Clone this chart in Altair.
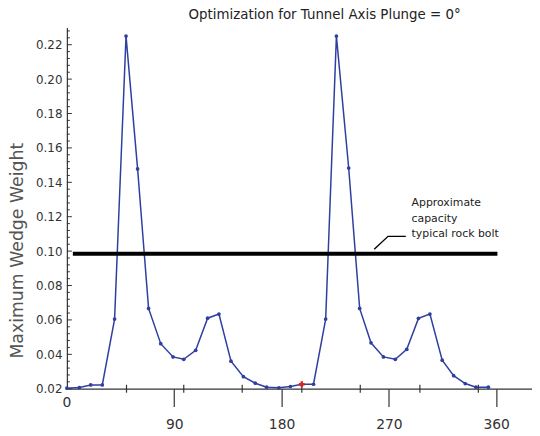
import altair as alt
import pandas as pd

# ---- data ----
angle = [0, 10.4, 20, 29.7, 40, 49.6, 59.3, 68.5, 78.7, 89, 98, 108, 118, 127.5,
         137.6, 148, 158, 167.5, 177.8, 187.4, 197, 206.8, 217, 226, 236.3, 245.5,
         255, 265.4, 275.4, 285, 294.8, 304.4, 314.7, 324.3, 334, 343, 353.4]
weight = [0.0203, 0.0207, 0.0222, 0.0222, 0.0605, 0.225, 0.1478, 0.0667, 0.0462,
          0.0385, 0.0371, 0.0423, 0.061, 0.0634, 0.036, 0.027, 0.0232, 0.0209,
          0.0205, 0.0213, 0.0226, 0.0226, 0.0605, 0.225, 0.1483, 0.0667, 0.0467,
          0.0385, 0.0371, 0.0429, 0.0609, 0.0634, 0.0366, 0.0276, 0.023, 0.0209,
          0.0209]
red_angle = [197]
red_weight = [0.0226]

capacity = [0.0985]
capacity_from = [5]
capacity_to = [361]

note_lines = ["Approximate", "capacity", "typical rock bolt"]
note_x = [289, 289, 289]
note_y = [0.1281, 0.1189, 0.1097]
leader_x = [257.7, 269.3, 284.2]
leader_y = [0.1011, 0.1086, 0.1086]

x_major = [90, 180, 270, 360]
x_minor = [50, 98, 147, 197, 246, 296, 345]
y_major = [0.02, 0.04, 0.06, 0.08, 0.10, 0.12, 0.14, 0.16, 0.18, 0.20, 0.22]
y_minor = [round(0.02 + 0.004 * i, 3) for i in range(53) if i % 5 != 0]

FONT = "DejaVu Sans"
AX = "#333333"
BLUE = "#2f3fa0"

xs = alt.Scale(domain=[0, 390], nice=False, zero=False)
ys = alt.Scale(domain=[0.02, 0.23], nice=False, zero=False)

X_AXIS = alt.Axis(
    values=x_major, title=None, grid=False, tickSize=18, tickWidth=1.2,
    tickColor=AX, domainColor=AX, domainWidth=1.2, labelFont=FONT,
    labelFontSize=14, labelColor=AX, labelPadding=11)
Y_AXIS = alt.Axis(
    values=y_major, format=".2f", title="Maximum Wedge Weight", grid=False,
    tickSize=0, domainColor=AX, domainWidth=1.2, labelFont=FONT,
    labelFontSize=12, labelColor=AX, labelPadding=5,
    titleFont=FONT, titleFontSize=17.5, titleFontWeight="normal",
    titleColor="#555555", titleX=-50, titleY=225, titleAngle=270,
    titleAlign="center", titleBaseline="middle")


def X(f="x:Q"):
    return alt.X(f, scale=xs, axis=X_AXIS)


def Y(f="y:Q"):
    return alt.Y(f, scale=ys, axis=Y_AXIS)


df = pd.DataFrame({"x": angle, "y": weight})
red_df = pd.DataFrame({"x": red_angle, "y": red_weight})
cap_df = pd.DataFrame({"x": capacity_from, "x2": capacity_to, "y": capacity})
note_df = pd.DataFrame({"x": note_x, "y": note_y, "t": note_lines})
lead_df = pd.DataFrame({"x": leader_x, "y": leader_y, "o": [0, 1, 2]})
xmin_df = pd.DataFrame({"x": x_minor})
ymaj_df = pd.DataFrame({"y": y_major})
ymin_df = pd.DataFrame({"y": y_minor})
zero_df = pd.DataFrame({"x": [0], "y": [0.02], "t": ["0"]})

line = alt.Chart(df).mark_line(color=BLUE, strokeWidth=1.5).encode(x=X(), y=Y())

pts = alt.Chart(df).mark_point(filled=True, color=BLUE, size=14, opacity=1).encode(
    x=X(), y=Y())

red = alt.Chart(red_df).mark_point(shape="cross", filled=True, color="#e02020",
                                   size=35, opacity=1).encode(x=X(), y=Y())

cap = alt.Chart(cap_df).mark_rule(color="black", strokeWidth=4).encode(
    x=X(), x2="x2:Q", y=Y())

lead = alt.Chart(lead_df).mark_line(color="black", strokeWidth=1.4).encode(
    x=X(), y=Y(), order="o:O")

note = alt.Chart(note_df).mark_text(align="left", baseline="middle", font=FONT,
                                    fontSize=11, color="#222222").encode(
    x=X(), y=Y(), text="t:N")

xminor = alt.Chart(xmin_df).mark_rule(color=AX, strokeWidth=1.2).encode(
    x=X(), y=alt.value(361), y2=alt.value(369))

ymajor = alt.Chart(ymaj_df).mark_rule(color=AX, strokeWidth=1).encode(
    y=Y(), x=alt.value(0), x2=alt.value(5))

yminor = alt.Chart(ymin_df).mark_rule(color=AX, strokeWidth=1).encode(
    y=Y(), x=alt.value(0), x2=alt.value(3))

zero = alt.Chart(zero_df).mark_text(font=FONT, fontSize=14, color=AX,
                                    baseline="middle", align="center", dy=14).encode(
    x=X(), y=Y(), text="t:N")

chart = alt.layer(line, cap, lead, note, xminor, ymajor, yminor, zero, pts, red).properties(
    width=470,
    height=365,
    title=alt.TitleParams(
        text="Optimization for Tunnel Axis Plunge = 0\u00b0",
        anchor="start", frame="group", dx=123, offset=6,
        font=FONT, fontSize=13.5, fontWeight="normal", color="#222222"),
    autosize=alt.AutoSizeParams(type="none"),
    padding={"left": 59.5, "top": 17.5, "right": 0, "bottom": 40},
    background="white",
).configure_view(stroke=None)

chart.save("out.html", embed_options={"renderer": "svg", "actions": False})
